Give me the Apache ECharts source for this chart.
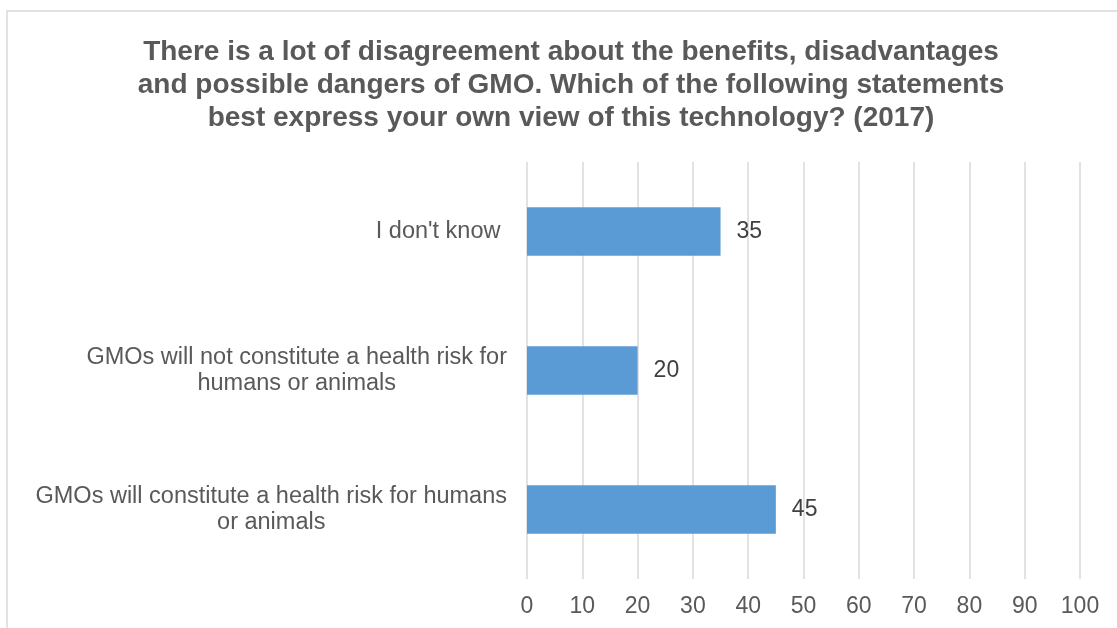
<!DOCTYPE html>
<html>
<head>
<meta charset="utf-8">
<script src="https://cdn.jsdelivr.net/npm/echarts@6/dist/echarts.min.js"></script>
<style>
  html, body { margin: 0; padding: 0; background: #fff; }
  #chart { width: 1117px; height: 628px; }
</style>
</head>
<body>
<div id="chart"></div>
<script>
// Survey answers, listed bottom-to-top as they appear on the vertical axis
const categories = [
  'GMOs will constitute a health risk for humans\nor animals',
  'GMOs will not constitute a health risk for\nhumans or animals',
  "I don't know "
];
const values = [45, 20, 35];
const xTicks = { min: 0, max: 100, step: 10 };
const titleText = 'There is a lot of disagreement about the benefits, disadvantages\nand possible dangers of GMO. Which of the following statements\nbest express your own view of this technology? (2017)';

const chart = echarts.init(document.getElementById('chart'), null, { renderer: 'canvas' });

const FONT = '"Liberation Sans", Arial, sans-serif';

chart.setOption({
  animation: false,
  backgroundColor: '#ffffff',
  textStyle: { fontFamily: FONT },
  graphic: [{
    type: 'rect',
    shape: { x: 7, y: 11, width: 1300, height: 800 },
    style: { fill: 'none', stroke: '#d9d9d9', lineWidth: 1.5 },
    silent: true,
    z: -1
  }],
  title: {
    text: titleText,
    left: 566,
    textAlign: 'center',
    top: 31,
    textStyle: {
      fontFamily: FONT,
      fontSize: 28,
      fontWeight: 'bold',
      color: '#595959',
      lineHeight: 33
    }
  },
  grid: { left: 527, right: 37, top: 162, bottom: 49, containLabel: false },
  xAxis: {
    type: 'value',
    min: xTicks.min,
    max: xTicks.max,
    interval: xTicks.step,
    axisLine: { show: false },
    axisTick: { show: false },
    splitLine: { show: true, lineStyle: { color: '#d9d9d9', width: 1.5 } },
    axisLabel: {
      margin: 16,
      fontFamily: FONT,
      fontSize: 23,
      color: '#595959'
    }
  },
  yAxis: {
    type: 'category',
    data: categories,
    axisLine: { show: false },
    axisTick: { show: false },
    axisLabel: {
      margin: 20,
      align: 'right',
      formatter: function (v) {
        return v.split('\n').map(function (line) { return '{c|' + line + '}'; }).join('\n');
      },
      rich: {
        c: {
          align: 'center',
          fontFamily: FONT,
          fontSize: 23.5,
          lineHeight: 26,
          color: '#595959'
        }
      }
    }
  },
  series: [{
    type: 'bar',
    data: values,
    barWidth: '35%',
    itemStyle: { color: '#5b9bd5' },
    label: {
      show: true,
      position: 'right',
      distance: 16,
      fontFamily: FONT,
      fontSize: 23,
      color: '#404040'
    }
  }]
});
</script>
</body>
</html>
